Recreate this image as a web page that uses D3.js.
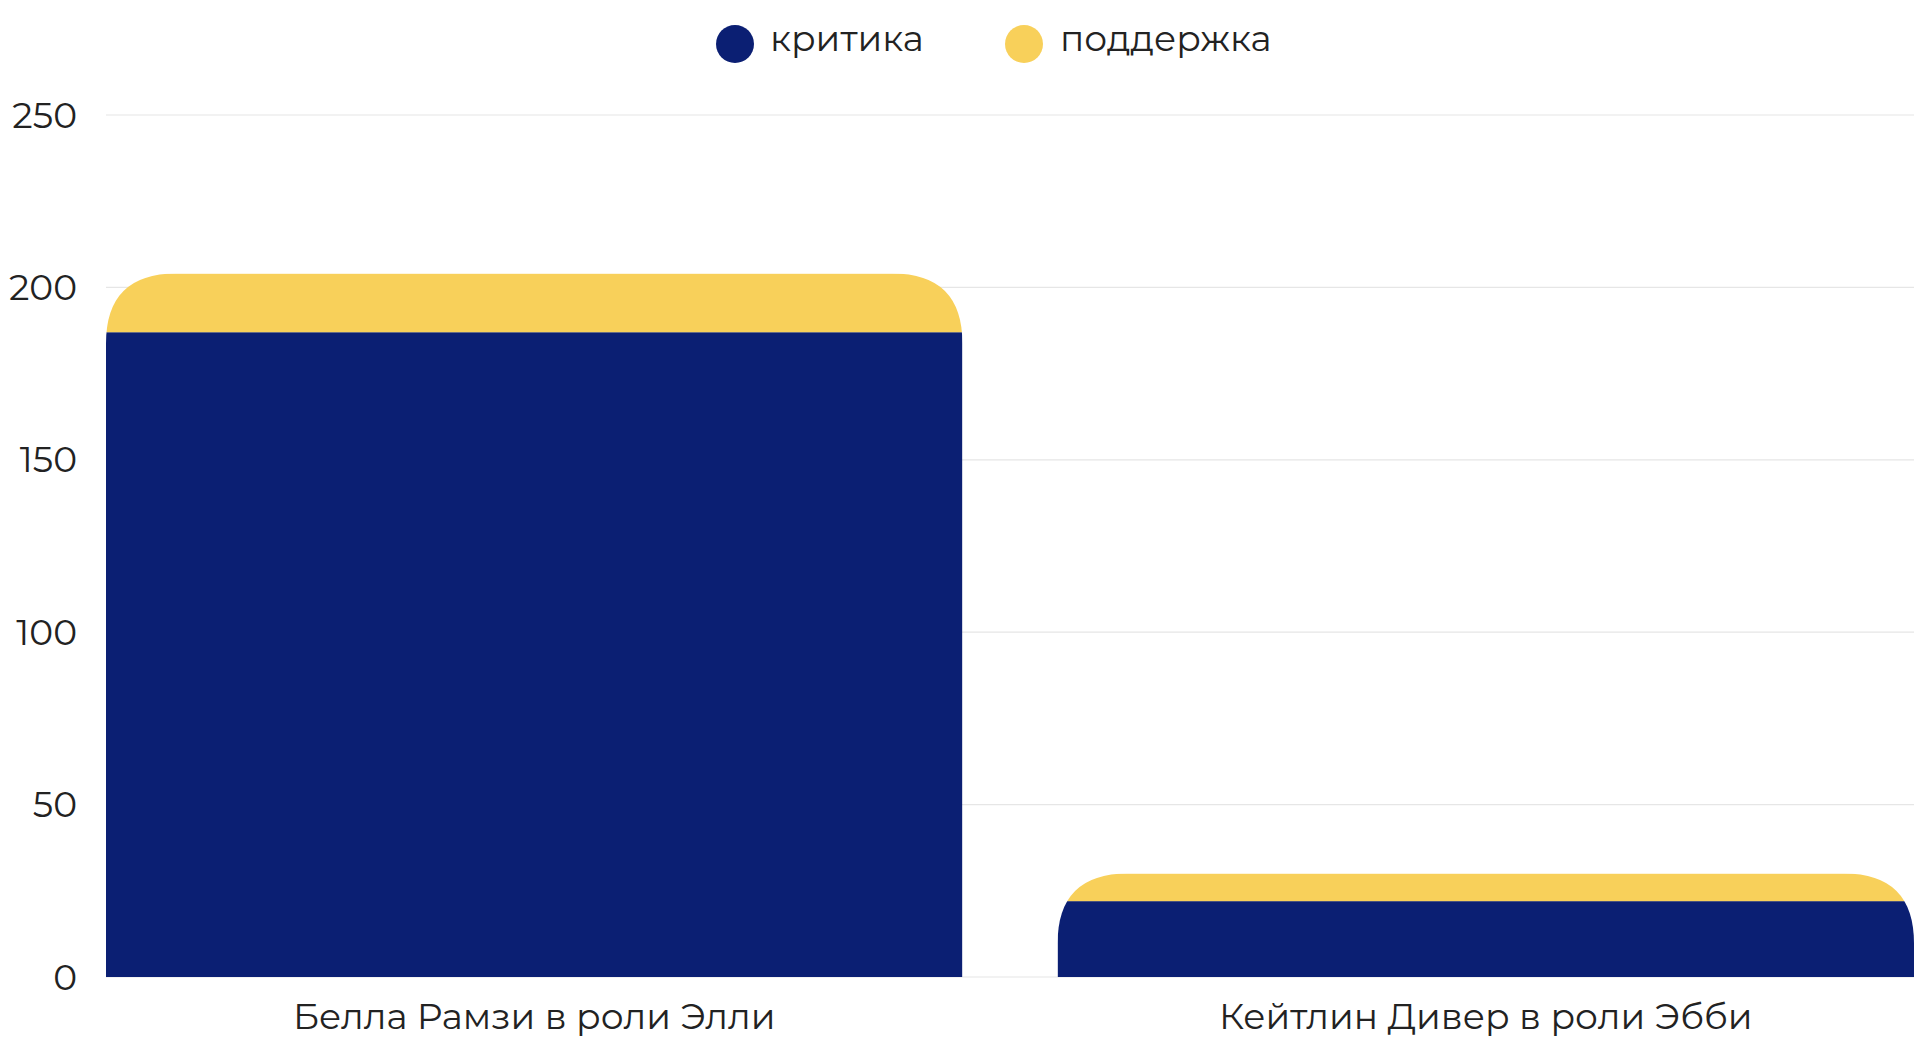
<!DOCTYPE html><html><head><meta charset="utf-8"><script src="https://cdn.jsdelivr.net/npm/d3@7"></script>
<style>body{margin:0;background:#fff}text{font-family:"Montserrat","Noto Sans",sans-serif}</style></head><body>
<svg id="c" width="1920" height="1042"></svg>
<script>
const categories=["Белла Рамзи в роли Элли","Кейтлин Дивер в роли Эбби"];
const seriesNames=["критика","поддержка"];
const critique=[187,22];
const support=[17,8];
const colors=["#0b1f73","#f8d05a"];
const ticks=[0,50,100,150,200,250];
const svg=d3.select("#c");
const x=d3.scaleBand().domain(categories).range([106,1914]).paddingInner(0.1).paddingOuter(0);
const y=d3.scaleLinear().domain([0,250]).range([977,115]);
svg.append("g").selectAll("line").data(ticks).join("line").attr("x1",106).attr("x2",1914)
 .attr("y1",d=>y(d)).attr("y2",d=>y(d)).attr("stroke","#e6e6e6").attr("stroke-width",1.2);
svg.append("g").selectAll("text").data(ticks).join("text").attr("x",77).attr("y",d=>y(d)).attr("dy","0.35em")
 .attr("text-anchor","end").attr("font-size",36).attr("fill","#222").text(d=>d);
const r=70;
const defs=svg.append("defs");
categories.forEach((c,i)=>{
  const x0=x(c),w=x.bandwidth(),tot=critique[i]+support[i],yt=y(tot),yb=y(0);
  const rr=Math.min(r,(yb-yt));
  const p=`M${x0},${yb}V${yt+rr}Q${x0},${yt} ${x0+rr},${yt}H${x0+w-rr}Q${x0+w},${yt} ${x0+w},${yt+rr}V${yb}Z`;
  defs.append("clipPath").attr("id","cl"+i).append("path").attr("d",p);
  const g=svg.append("g").attr("clip-path",`url(#cl${i})`);
  g.append("rect").attr("x",x0).attr("width",w).attr("y",y(critique[i])).attr("height",yb-y(critique[i])).attr("fill",colors[0]);
  g.append("rect").attr("x",x0).attr("width",w).attr("y",yt).attr("height",y(critique[i])-yt).attr("fill",colors[1]);
  svg.append("text").attr("x",x0+w/2).attr("y",1016).attr("dy","0.35em").attr("text-anchor","middle")
   .attr("font-size",36).attr("fill","#222").text(c);
});
const lg=[[735,770],[1024,1060]];
seriesNames.forEach((s,i)=>{
  svg.append("circle").attr("cx",lg[i][0]).attr("cy",44).attr("r",19).attr("fill",colors[i]);
  svg.append("text").attr("x",lg[i][1]).attr("y",38).attr("dy","0.35em").attr("font-size",36).attr("fill","#222").text(s);
});
</script></body></html>
